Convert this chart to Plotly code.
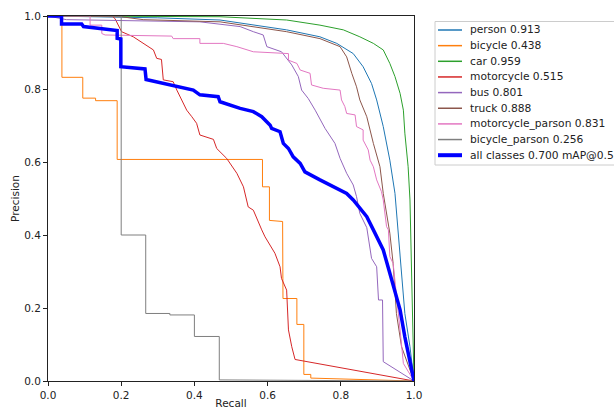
import plotly.graph_objects as go

names = ["person 0.913", "bicycle 0.438", "car 0.959", "motorcycle 0.515", "bus 0.801",
         "truck 0.888", "motorcycle_parson 0.831", "bicycle_parson 0.256", "all classes 0.700 mAP@0.5"]
colors = ["#1f77b4", "#ff7f0e", "#2ca02c", "#d62728", "#9467bd", "#8c564b", "#e377c2", "#7f7f7f", "#0000ff"]

person_r = [0, 0.10, 0.30, 0.47, 0.652, 0.743, 0.789, 0.834, 0.861, 0.884, 0.898, 0.916, 0.934, 0.948, 0.957, 0.966, 0.975, 0.989, 1.0]
person_p = [1.0, 0.998, 0.995, 0.989, 0.962, 0.943, 0.925, 0.897, 0.861, 0.815, 0.77, 0.697, 0.605, 0.514, 0.405, 0.277, 0.185, 0.094, 0.0]

bicycle_r = [0, 0.038, 0.038, 0.095, 0.095, 0.13, 0.13, 0.189, 0.189, 0.586, 0.586, 0.605, 0.605, 0.641, 0.642, 0.68, 0.68, 0.699, 0.699, 0.718, 0.718, 1.0]
bicycle_p = [1.0, 1.0, 0.832, 0.832, 0.775, 0.775, 0.768, 0.768, 0.607, 0.607, 0.532, 0.532, 0.44, 0.437, 0.226, 0.226, 0.155, 0.155, 0.018, 0.018, 0.008, 0.0]

car_r = [0, 0.2, 0.47, 0.652, 0.743, 0.807, 0.852, 0.889, 0.916, 0.934, 0.948, 0.962, 0.971, 0.975, 0.984, 0.989, 0.991, 0.994, 1.0]
car_p = [1.0, 1.0, 0.998, 0.989, 0.975, 0.962, 0.943, 0.925, 0.907, 0.87, 0.834, 0.788, 0.742, 0.679, 0.587, 0.496, 0.386, 0.231, 0.0]

motor_r = [0, 0.175, 0.183, 0.201, 0.233, 0.26, 0.288, 0.297, 0.31, 0.315, 0.342, 0.352, 0.365, 0.379, 0.393, 0.406, 0.415, 0.452, 0.461, 0.488, 0.516, 0.534, 0.547, 0.561, 0.584, 0.593, 0.62, 0.634, 0.638, 0.652, 0.657, 0.666, 0.675, 1.0]
motor_p = [1.0, 1.0, 0.993, 0.957, 0.943, 0.925, 0.907, 0.884, 0.881, 0.825, 0.82, 0.797, 0.77, 0.742, 0.724, 0.706, 0.674, 0.662, 0.637, 0.61, 0.569, 0.532, 0.477, 0.468, 0.414, 0.395, 0.35, 0.313, 0.281, 0.249, 0.14, 0.094, 0.059, 0.0]

bus_r = [0, 0.05, 0.415, 0.525, 0.561, 0.588, 0.598, 0.638, 0.666, 0.684, 0.693, 0.711, 0.73, 0.757, 0.784, 0.798, 0.816, 0.834, 0.843, 0.852, 0.871, 0.884, 0.898, 0.903, 0.914, 0.916, 1.0]
bus_p = [1.0, 0.99, 0.984, 0.971, 0.957, 0.948, 0.916, 0.902, 0.866, 0.834, 0.797, 0.774, 0.742, 0.692, 0.651, 0.61, 0.569, 0.537, 0.505, 0.459, 0.42, 0.336, 0.313, 0.222, 0.222, 0.053, 0.0]

truck_r = [0, 0.2, 0.26, 0.47, 0.652, 0.743, 0.798, 0.816, 0.83, 0.843, 0.852, 0.871, 0.889, 0.907, 0.916, 0.925, 0.934, 0.943, 0.952, 0.966, 1.0]
truck_p = [1.0, 0.998, 0.99, 0.984, 0.957, 0.938, 0.916, 0.888, 0.843, 0.806, 0.77, 0.724, 0.651, 0.587, 0.514, 0.459, 0.405, 0.322, 0.185, 0.094, 0.0]

mparson_r = [0, 0.115, 0.115, 0.147, 0.147, 0.156, 0.338, 0.342, 0.415, 0.415, 0.479, 0.516, 0.561, 0.657, 0.657, 0.68, 0.689, 0.716, 0.72, 0.752, 0.798, 0.802, 0.811, 0.816, 0.839, 0.843, 0.861, 0.861, 0.875, 0.88, 0.889, 0.898, 0.911, 0.916, 0.925, 0.93, 0.934, 0.943, 0.962, 0.971, 1.0]
mparson_p = [1.0, 1.0, 0.975, 0.975, 0.952, 0.948, 0.945, 0.938, 0.938, 0.925, 0.925, 0.916, 0.902, 0.897, 0.879, 0.87, 0.852, 0.843, 0.811, 0.802, 0.797, 0.77, 0.752, 0.733, 0.729, 0.697, 0.688, 0.66, 0.633, 0.605, 0.587, 0.551, 0.519, 0.496, 0.423, 0.414, 0.341, 0.322, 0.14, 0.048, 0.0]

bparson_r = [0, 0.2, 0.2, 0.267, 0.267, 0.333, 0.333, 0.4, 0.4, 0.468, 0.468, 1.0]
bparson_p = [1.0, 1.0, 0.4, 0.4, 0.185, 0.185, 0.181, 0.181, 0.122, 0.122, 0.003, 0.0]

all_r = [0, 0.037, 0.037, 0.092, 0.097, 0.115, 0.133, 0.156, 0.183, 0.189, 0.189, 0.199, 0.199, 0.265, 0.268, 0.315, 0.352, 0.397, 0.415, 0.465, 0.47, 0.525, 0.561, 0.584, 0.607, 0.611, 0.634, 0.643, 0.657, 0.67, 0.689, 0.702, 0.743, 0.779, 0.816, 0.834, 0.871, 0.889, 0.902, 0.916, 0.934, 0.962, 0.975, 0.989, 1.0]
all_p = [1.0, 1.0, 0.978, 0.978, 0.971, 0.969, 0.966, 0.963, 0.962, 0.96, 0.939, 0.937, 0.861, 0.855, 0.826, 0.816, 0.808, 0.797, 0.784, 0.779, 0.765, 0.747, 0.738, 0.724, 0.701, 0.692, 0.683, 0.651, 0.637, 0.614, 0.596, 0.573, 0.551, 0.532, 0.514, 0.496, 0.45, 0.414, 0.386, 0.359, 0.295, 0.195, 0.121, 0.048, 0.0]

tick_vals = [0, 0.2, 0.4, 0.6, 0.8, 1.0]
tick_text = ["0.0", "0.2", "0.4", "0.6", "0.8", "1.0"]

series = [(person_r, person_p), (bicycle_r, bicycle_p), (car_r, car_p), (motor_r, motor_p),
          (bus_r, bus_p), (truck_r, truck_p), (mparson_r, mparson_p), (bparson_r, bparson_p),
          (all_r, all_p)]

W, H = 614, 409
L, R, T, B = 48, 200, 16, 28
pw, ph = W - L - R, H - T - B


def px2x(px):
    return (px - L) / pw


def py2y(py):
    return (H - B - py) / ph


fig = go.Figure()
for i, (r, p) in enumerate(series):
    fig.add_trace(go.Scatter(x=r, y=p, mode="lines", name=names[i], showlegend=False,
                             line=dict(color=colors[i], width=3.5 if i == 8 else 1)))

# legend drawn by hand (matplotlib-like compact spacing)
shapes = [dict(type="rect", xref="paper", yref="paper", x0=px2x(435), x1=px2x(650),
               y0=py2y(165), y1=py2y(21.5), line=dict(color="#cccccc", width=1),
               fillcolor="rgba(255,255,255,0.8)", layer="above")]
annotations = []
for i, nm in enumerate(names):
    yc = 30 + i * 15.65
    shapes.append(dict(type="line", xref="paper", yref="paper", x0=px2x(438), x1=px2x(462),
                       y0=py2y(yc), y1=py2y(yc), layer="above",
                       line=dict(color=colors[i], width=4 if i == 8 else 1.5)))
    annotations.append(dict(text=nm, xref="paper", yref="paper", x=px2x(467.5), y=py2y(yc),
                            xanchor="left", yanchor="middle", showarrow=False,
                            font=dict(family="DejaVu Sans", size=10.7, color="#222222")))

font = "DejaVu Sans"
axis_common = dict(range=[0, 1], tickvals=tick_vals, ticktext=tick_text, showgrid=False,
                   zeroline=False, showline=True, mirror=True, linecolor="#222222", linewidth=1,
                   ticks="outside", ticklen=4, tickcolor="#222222",
                   tickfont=dict(family=font, size=10.5, color="#222222"))
fig.update_layout(
    width=W, height=H,
    margin=dict(l=L, r=R, t=T, b=B, autoexpand=False),
    paper_bgcolor="white", plot_bgcolor="white",
    font=dict(family=font, color="#222222"),
    xaxis=dict(**axis_common, title=dict(text="Recall", font=dict(family=font, size=10.5), standoff=1)),
    yaxis=dict(**axis_common, title=dict(text="Precision", font=dict(family=font, size=10.5), standoff=2)),
    shapes=shapes,
    annotations=annotations,
    showlegend=False,
)
fig.write_html("out.html", config={"displayModeBar": False},
               post_script="document.body.style.margin='0px';document.body.style.overflow='hidden';")
